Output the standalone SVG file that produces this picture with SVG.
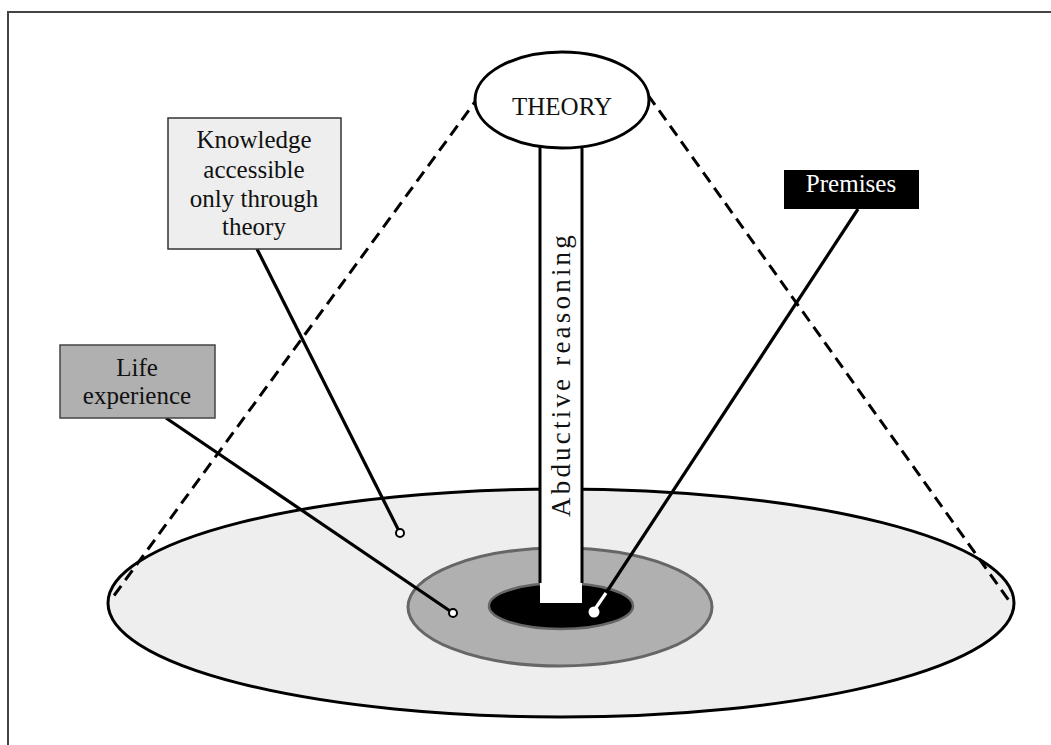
<svg xmlns="http://www.w3.org/2000/svg" width="1051" height="745" viewBox="0 0 1051 745">
<style>
text{font-family:"Liberation Serif","Times New Roman",serif;fill:#111;}
.lbl{font-size:25px;text-anchor:middle;}
.conn{stroke:#000;stroke-width:3.2;fill:none;}
.dash{stroke:#000;stroke-width:3;fill:none;stroke-dasharray:12,7;}
.dot{fill:#fff;stroke:#000;stroke-width:2;}
</style>
<rect width="1051" height="745" fill="#fff"/>
<path d="M8,746 V12 H1052" fill="none" stroke="#444" stroke-width="2"/>
<g id="field">
<ellipse cx="561" cy="603" rx="453" ry="114" fill="#eeeeee" stroke="#000" stroke-width="3"/>
</g>
<g id="life-zone">
<ellipse cx="560" cy="607" rx="152" ry="59" fill="#b0b0b0" stroke="#666" stroke-width="3"/>
</g>
<g id="premises-zone">
<ellipse cx="561" cy="606" rx="72" ry="23" fill="#000" stroke="#666" stroke-width="2.5"/>
</g>
<g id="connectors">
<path class="dash" d="M480,95 L113,597"/>
<path class="dash" d="M648,95 L1010,602"/>
</g>
<g id="pillar">
<rect x="540" y="146" width="42" height="457" fill="#fff"/>
<path d="M540,146 V583 M582,146 V583" stroke="#000" stroke-width="3" fill="none"/>
<text transform="translate(570,517) rotate(-90)" font-size="27" letter-spacing="3.2">Abductive reasoning</text>
</g>
<g id="theory">
<ellipse cx="562" cy="100" rx="87" ry="48" fill="#fff" stroke="#000" stroke-width="3"/>
<text class="lbl" x="562" y="115" font-size="29">THEORY</text>
</g>
<g id="connectors-labels">
<path class="conn" d="M257,249 L400,533"/>
<path class="conn" d="M166,418 L453,613"/>
<path class="conn" d="M858,209 L606,593"/>
<path d="M606,593 L593,612" stroke="#fff" stroke-width="3.2"/>
<circle class="dot" cx="400" cy="533" r="4"/>
<circle class="dot" cx="453" cy="613" r="4"/>
<circle cx="594" cy="612" r="5.5" fill="#fff"/>
</g>
<g id="knowledge">
<rect x="168" y="118" width="173" height="131" fill="#eeeeee" stroke="#333" stroke-width="1.5"/>
<text class="lbl" x="254" y="148">Knowledge</text>
<text class="lbl" x="254" y="178">accessible</text>
<text class="lbl" x="254" y="207">only through</text>
<text class="lbl" x="254" y="235">theory</text>
</g>
<g id="life">
<rect x="60" y="345" width="155" height="73" fill="#b0b0b0" stroke="#444" stroke-width="1.5"/>
<text class="lbl" x="137" y="376">Life</text>
<text class="lbl" x="137" y="404">experience</text>
</g>
<g id="premises">
<rect x="784" y="170" width="135" height="39" fill="#000"/>
<text class="lbl" x="851" y="192" style="fill:#fff">Premises</text>
</g>
</svg>
